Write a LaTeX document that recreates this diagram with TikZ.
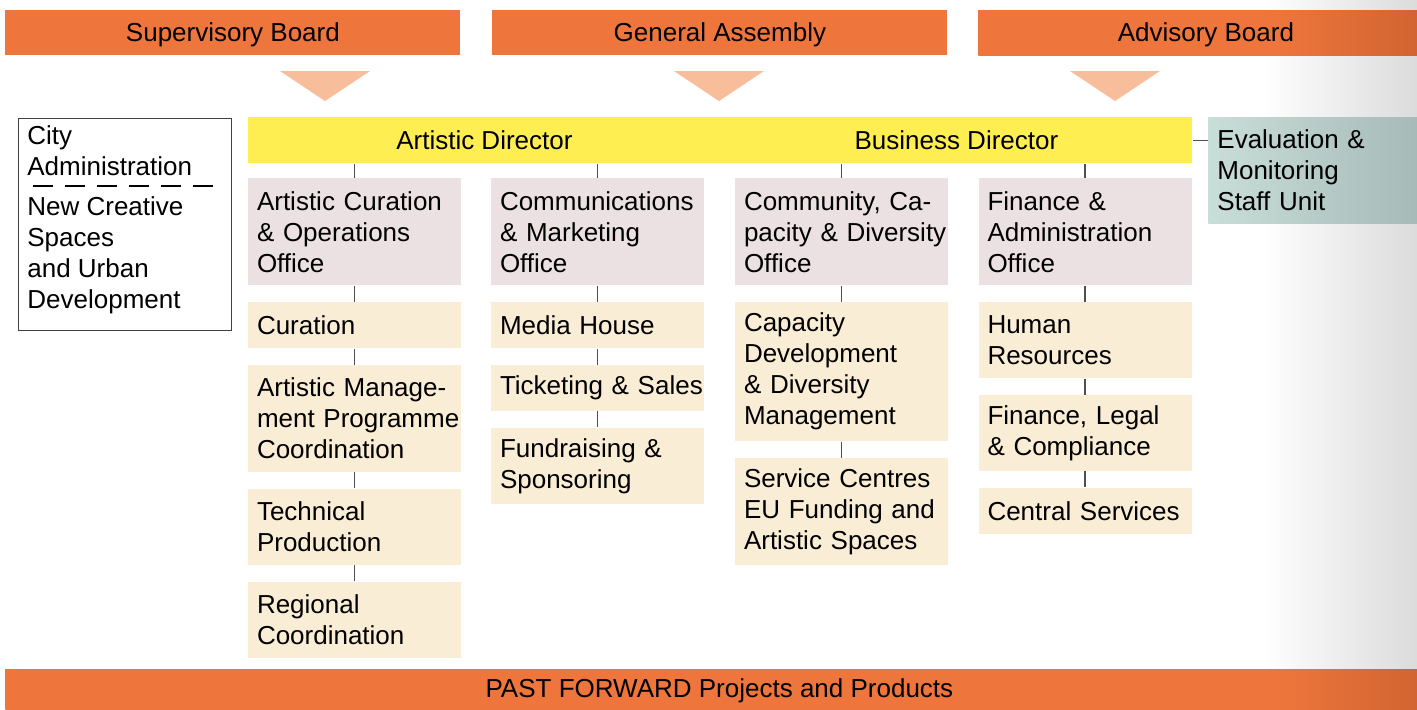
\documentclass[tikz,border=0pt]{standalone}
\usepackage{fontspec}
\setmainfont{Liberation Sans}
\usepackage{tikz}
\usetikzlibrary{positioning,calc}
\usepackage{xcolor}
\definecolor{pforange}{RGB}{238,118,60}
\definecolor{pfdarkorange}{RGB}{206,98,48}
\definecolor{pfpeach}{RGB}{248,190,156}
\definecolor{pfyellow}{RGB}{255,238,82}
\definecolor{pfrose}{RGB}{235,225,227}
\definecolor{pfcream}{RGB}{250,237,213}
\definecolor{pfteal}{RGB}{201,221,217}
\definecolor{pfdarkteal}{RGB}{166,187,183}
\definecolor{pfline}{RGB}{80,80,80}
\pgfdeclarehorizontalshading{advfade}{100bp}{color(0bp)=(pforange); color(57.5bp)=(pforange); color(75bp)=(pfdarkorange); color(100bp)=(pfdarkorange)}
\pgfdeclarehorizontalshading{pastfade}{100bp}{color(0bp)=(pforange); color(69.5bp)=(pforange); color(75bp)=(pfdarkorange); color(100bp)=(pfdarkorange)}
\tikzstyle{board} = [rectangle, fill=pforange, minimum width=227.5pt, minimum height=22.5pt, inner sep=0pt, text height=10pt, text depth=1.5pt]
\tikzstyle{director} = [rectangle, fill=pfyellow, minimum width=236pt, minimum height=23pt, inner sep=0pt, text height=10.5pt, text depth=1pt]
\tikzstyle{office} = [rectangle, fill=pfrose, text width=97.5pt, inner xsep=4.5pt, inner ysep=0pt, minimum height=53.5pt, anchor=north,
  execute at begin node={\parindent=0pt\hyphenpenalty=10000\rightskip=0pt plus 1fil minus 30pt}]
\tikzstyle{unit} = [office, fill=pfcream, minimum height=23pt]
\tikzstyle{link} = [pfline, line width=0.6pt]

\begin{document}
\begin{tikzpicture}[x=0.5pt, y=-0.5pt, font=\fontsize{13}{15.5}\selectfont]
\useasboundingbox (0,0) rectangle (1417,709);
\clip (0,0) rectangle (1417,709);
% page, greyed towards the right
\fill[white] (0,0) rectangle (1417,709);
\shade[left color=white, right color=black!14] (1262,0) rectangle (1417,709);

% Boards
\node[board, anchor=north west] (sup) at (5,10) {Supervisory Board};
\node[board, anchor=north west] (gen) at (492,10) {General Assembly};
\node[board, shading=advfade, anchor=north west] (adv) at (978,10) {Advisory Board};
\fill[pfpeach] (280,71) -- (370,71) -- (325,101) -- cycle;
\fill[pfpeach] (674,71) -- (764,71) -- (719,101) -- cycle;
\fill[pfpeach] (1070,71) -- (1160,71) -- (1115,101) -- cycle;

% Directors
\node[director, anchor=north west] (art) at (248,117) {Artistic Director};
\node[director, right=-0.4pt of art] (bus) {Business Director};
\node[rectangle, left color=pfteal, right color=pfdarkteal, text width=95.5pt, inner xsep=4.5pt, inner ysep=0pt, minimum height=53pt, align=left, anchor=north west] (eval) at (1208,117) {Evaluation \&\\Monitoring\\Staff Unit};
\draw[link] (bus.east) -- (bus.east -| eval.west);

% City
\node[draw=black!75, line width=0.7pt, minimum width=106.5pt, minimum height=106pt, anchor=north west] (city) at (18,118) {};
\node[anchor=north west, align=left, inner sep=0pt] (citytext) at ($(city.north west)+(9,7)$) {City\\Administration\\[4.5pt]New Creative\\Spaces\\and Urban\\Development};
\draw[black, line width=0.6pt, dash pattern=on 10pt off 6pt] ($(city.north west)+(15,68)$) -- ($(city.north west)+(197,68)$);

% Artistic side
\node[office] (aco) at (354.5,178) {Artistic Curation\\\& Operations\\Office};
\node[unit, below=8pt of aco] (cur) {Curation};
\node[unit, below=8pt of cur, minimum height=53.5pt] (amp) {Artistic Manage-\\ment Programme\\Coordination};
\node[unit, below=8pt of amp, minimum height=38pt] (tec) {Technical\\Production};
\node[unit, below=8pt of tec, minimum height=38pt] (reg) {Regional\\Coordination};

\node[office] (cmo) at (597.5,178) {Communications\\\& Marketing\\Office};
\node[unit, below=8pt of cmo] (med) {Media House};
\node[unit, below=8pt of med] (tic) {Ticketing \& Sales};
\node[unit, below=8pt of tic, minimum height=38pt] (fun) {Fundraising \&\\Sponsoring};

% Business side
\node[office] (ccd) at (841.5,178) {Community, Ca-\\pacity \& Diversity\\Office};
\node[unit, below=8pt of ccd, minimum height=69.5pt] (cap) {Capacity\\Development\\\& Diversity\\Management};
\node[unit, below=8pt of cap, minimum height=53.5pt] (ser) {Service Centres\\EU Funding and\\Artistic Spaces};

\node[office] (fao) at (1085,178) {Finance \&\\Administration\\Office};
\node[unit, below=8pt of fao, minimum height=38pt] (hum) {Human\\Resources};
\node[unit, below=8pt of hum, minimum height=38pt] (fin) {Finance, Legal\\\& Compliance};
\node[unit, below=8pt of fin] (cen) {Central Services};

% connectors
\foreach \top in {aco,cmo}
  \draw[link] (art.south -| \top.north) -- (\top.north);
\foreach \top in {ccd,fao}
  \draw[link] (bus.south -| \top.north) -- (\top.north);
\foreach \a/\b in {aco/cur,cur/amp,amp/tec,tec/reg,cmo/med,med/tic,tic/fun,ccd/cap,cap/ser,fao/hum,hum/fin,fin/cen}
  \draw[link] (\a.south) -- (\b.north);

% Projects
\node[board, shading=pastfade, minimum width=714pt, minimum height=20pt, anchor=north west] (past) at (5,669) {PAST FORWARD Projects and Products};
\end{tikzpicture}
\end{document}
